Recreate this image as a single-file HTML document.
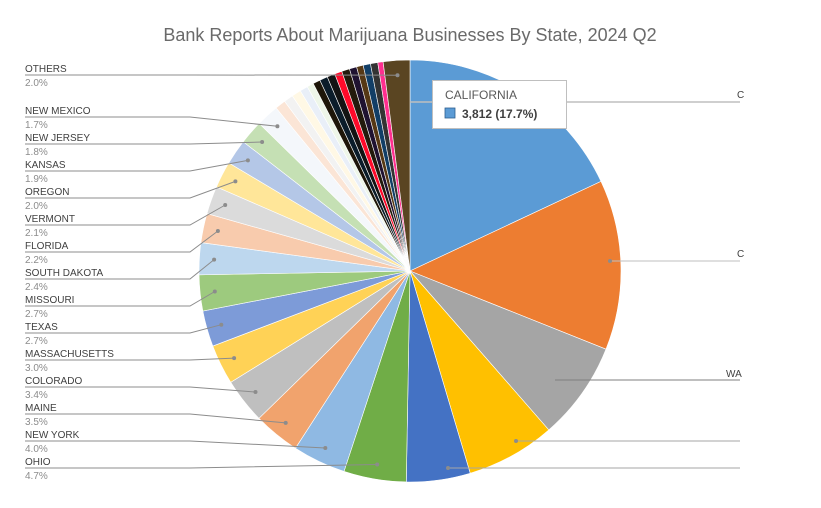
<!DOCTYPE html>
<html><head><meta charset="utf-8"><style>
html,body{margin:0;padding:0;background:#fff;}
svg{display:block;font-family:"Liberation Sans",sans-serif;}
</style></head><body>
<svg id="s" width="821" height="508" viewBox="0 0 821 508" xmlns="http://www.w3.org/2000/svg">
<rect width="821" height="508" fill="#fff"/>
<text x="410" y="41" text-anchor="middle" font-size="18" fill="#6a6a6a">Bank Reports About Marijuana Businesses By State, 2024 Q2</text>
<g id="pie"></g>
<g id="lab" font-size="10"></g>
</svg>
<script>
var cx=410,cy=271,r=211;
var sl=[
[17.7,"#5b9bd5"],[12.8,"#ed7d31"],[7.4,"#a5a5a5"],[6.7,"#ffc000"],[4.8,"#4472c4"],
[4.7,"#70ad47","OHIO"],[4.0,"#8fb9e3","NEW YORK"],[3.5,"#f1a36d","MAINE"],[3.4,"#bfbfbf","COLORADO"],[3.0,"#ffd256","MASSACHUSETTS"],
[2.7,"#7d9bd8","TEXAS"],[2.7,"#9dca7e","MISSOURI"],[2.4,"#bdd7ee","SOUTH DAKOTA"],[2.2,"#f8cbad","FLORIDA"],[2.1,"#dbdbdb","VERMONT"],
[2.0,"#ffe699","OREGON"],[1.9,"#b4c7e7","KANSAS"],[1.8,"#c5e0b4","NEW JERSEY"],[1.7,"#f4f7fb","NEW MEXICO"],
[0.8,"#fbe5d6"],[0.7,"#f2f2f2"],[0.7,"#fff8e5"],[0.6,"#e9eff8"],[0.5,"#eef6e9"],
[0.55,"#1e1609"],[0.6,"#0b1c2a"],[0.6,"#131313"],[0.55,"#ff0a2a"],[0.6,"#231a0c"],[0.55,"#1f1230"],[0.5,"#563815"],[0.55,"#123e66"],[0.55,"#333333"],[0.4,"#ff2f8f"],
[2.0,"#5a4522","OTHERS"]];
var tot=0;sl.forEach(s=>tot+=s[0]);
function pt(a,rr){a=a*Math.PI/180;return [cx+rr*Math.sin(a),cy-rr*Math.cos(a)];}
var pie=document.getElementById("pie"),lab=document.getElementById("lab");
var a=0,h="",L="";
var ly={"OTHERS":72,"NEW MEXICO":114,"NEW JERSEY":141,"KANSAS":168,"OREGON":195,"VERMONT":222,"FLORIDA":249,"SOUTH DAKOTA":276,"MISSOURI":303,"TEXAS":330,"MASSACHUSETTS":357,"COLORADO":384,"MAINE":411,"NEW YORK":438,"OHIO":465};
sl.forEach(function(s){
 var d=s[0]/tot*360,b=a+d,p1=pt(a,r),p2=pt(b,r);
 h+='<path d="M'+cx+','+cy+'L'+p1[0].toFixed(2)+','+p1[1].toFixed(2)+'A'+r+','+r+' 0 '+(d>180?1:0)+' 1 '+p2[0].toFixed(2)+','+p2[1].toFixed(2)+'Z" fill="'+s[1]+'" stroke="#fff" stroke-width="0.6"/>';
 if(s[2]){var m=pt(a+d/2,r*0.93),y=ly[s[2]];
  L+='<polyline points="25,'+(y+3)+' 190,'+(y+3)+' '+m[0].toFixed(1)+','+m[1].toFixed(1)+'" fill="none" stroke="#8c8c8c" stroke-width="1"/>';
  L+='<circle cx="'+m[0].toFixed(1)+'" cy="'+m[1].toFixed(1)+'" r="2" fill="#8c8c8c"/>';
  L+='<text x="25" y="'+y+'" fill="#404040">'+s[2]+'</text><text x="25" y="'+(y+14)+'" fill="#8c8c8c">'+s[0].toFixed(1)+'%</text>';}
 a=b;});
pie.innerHTML=h;
L+='<line x1="410" y1="102" x2="740" y2="102" stroke="#bfbfbf" stroke-width="1.5"/><text x="737" y="98" fill="#404040">C</text>';
L+='<line x1="610" y1="261" x2="740" y2="261" stroke="#bfbfbf" stroke-width="1"/><circle cx="610" cy="261" r="2" fill="#8c8c8c"/><text x="737" y="257" fill="#404040">C</text>';
L+='<line x1="555" y1="380" x2="740" y2="380" stroke="#7f7f7f" stroke-width="1"/><text x="726" y="377" fill="#404040">WA</text>';
L+='<line x1="516" y1="441" x2="740" y2="441" stroke="#a6a6a6" stroke-width="1"/><circle cx="516" cy="441" r="2" fill="#8c8c8c"/>';
L+='<line x1="448" y1="468" x2="740" y2="468" stroke="#a6a6a6" stroke-width="1"/><circle cx="448" cy="468" r="2" fill="#8c8c8c"/>';
L+='<rect x="432.5" y="80.5" width="134" height="48" fill="#fff" stroke="#bfbfbf"/><text x="445" y="99" font-size="12" fill="#595959">CALIFORNIA</text><rect x="445" y="108" width="10" height="10" fill="#5b9bd5" stroke="#2e5f8f" stroke-width="0.8"/><text x="462" y="118" font-size="12" font-weight="bold" fill="#404040">3,812 (17.7%)</text>';
lab.innerHTML=L;
</script>
</body></html>
